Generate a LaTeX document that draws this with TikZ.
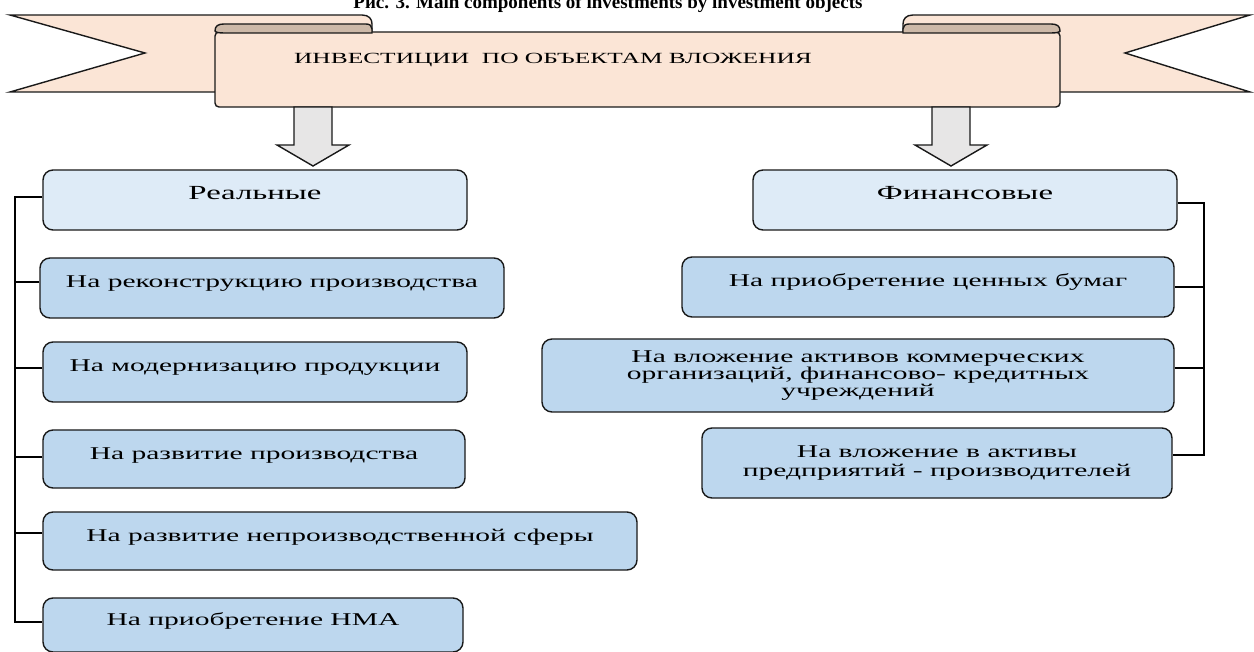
\documentclass[tikz,border=0pt]{standalone}
\usepackage{fontspec}
\setmainfont{Liberation Serif}[FakeStretch=1.64]
\newfontfamily\capfont{Liberation Serif}
\definecolor{peach}{HTML}{FBE5D6}
\definecolor{rollc}{HTML}{CDB9A8}
\definecolor{arrowc}{HTML}{E7E6E6}
\definecolor{hdrc}{HTML}{DEEBF7}
\definecolor{subc}{HTML}{BDD7EE}
\begin{document}
\begin{tikzpicture}[x=1pt,y=-1pt,
  outl/.style={draw=black!90, line width=1.4pt},
  tail/.style={outl, fill=peach, line join=miter},
  roll/.style={outl, fill=rollc},
  panel/.style={outl, fill=peach, rounded corners=4pt, minimum width=845pt, minimum height=75pt, inner sep=0pt},
  bannertxt/.style={inner sep=0pt, text height=5pt, text depth=5pt, font=\fontsize{15.5}{17}\selectfont},
  blockarrow/.style={outl, fill=arrowc, line join=miter},
  hdr/.style={outl, fill=hdrc, rounded corners=10pt, inner sep=0pt, text height=5pt, text depth=5pt, font=\fontsize{20}{22}\selectfont},
  sub/.style={outl, fill=subc, rounded corners=10pt, inner sep=0pt, text height=5pt, text depth=5pt, font=\fontsize{18}{20}\selectfont},
  subm/.style={outl, fill=subc, rounded corners=10pt, inner sep=0pt, align=center},
  conn/.style={draw=black, line width=1.5pt}
]
\useasboundingbox (0,0) rectangle (1254,652);

% ribbon tails
\draw[tail] (10,15) -- (362,15) .. controls (369,15) and (372,19) .. (372,24) -- (372,92) -- (10,92) -- (145,53) -- cycle;
\draw[tail] (1250,15) -- (913,15) .. controls (906,15) and (903,19) .. (903,24) -- (903,92) -- (1250,92) -- (1125,53) -- cycle;

% front panel
\node[panel] (banner) at (637.5,69.5) {};
\node[bannertxt] (bannertext) at (553,64) {ИНВЕСТИЦИИ\ \ ПО ОБЪЕКТАМ ВЛОЖЕНИЯ};

% rolls
\draw[roll] (215,31) .. controls (215,26) and (218,24) .. (224,24) -- (366,24) .. controls (370,24) and (372,26) .. (372,29) -- (372,33) -- (224,33) .. controls (218,33) and (215,32) .. (215,31) -- cycle;
\draw[roll] (1060,31) .. controls (1060,26) and (1057,24) .. (1051,24) -- (909,24) .. controls (905,24) and (903,26) .. (903,29) -- (903,33) -- (1051,33) .. controls (1057,33) and (1060,32) .. (1060,31) -- cycle;

% block arrows
\draw[blockarrow] (294,107) -- (294,145) -- (277,145) -- (313,166) -- (349,145) -- (332,145) -- (332,107) -- cycle;
\draw[blockarrow] (932,107) -- (932,145) -- (915,145) -- (951,166) -- (987,145) -- (970,145) -- (970,107) -- cycle;

% boxes
\node[hdr, minimum width=424pt, minimum height=60pt] (real) at (255,200) {Реальные};
\node[hdr, minimum width=424pt, minimum height=60pt] (fin) at (965,200) {Финансовые};
\node[sub, minimum width=464pt, minimum height=60pt] (l1) at (272,288) {На реконструкцию производства};
\node[sub, minimum width=424pt, minimum height=60pt] (l2) at (255,372) {На модернизацию продукции};
\node[sub, minimum width=422pt, minimum height=58pt] (l3) at (254,459) {На развитие производства};
\node[sub, minimum width=594pt, minimum height=58pt] (l4) at (340,541) {На развитие непроизводственной сферы};
\node[sub, minimum width=420pt, minimum height=54pt] (l5) at (253,625) {На приобретение НМА};
\node[sub, minimum width=492pt, minimum height=60pt] (r1) at (928,287) {На приобретение ценных бумаг};
\node[subm, minimum width=632pt, minimum height=73pt, font=\fontsize{18}{15.5}\selectfont] (r2) at (858,375.5) {На вложение активов коммерческих\\организаций, финансово- кредитных\\учреждений};
\node[subm, minimum width=470pt, minimum height=70pt, font=\fontsize{18}{19}\selectfont] (r3) at (937,463) {На вложение в активы\\предприятий - производителей};

% connectors
\coordinate (lbar) at (15,197);
\coordinate (rbar) at (1204,203);
\draw[conn] ([yshift=3pt]real.west) -- ([yshift=3pt]real.west -| lbar) -- ([yshift=3pt]l5.west -| lbar) -- ([yshift=3pt]l5.west);
\draw[conn] ([yshift=6pt]l1.west) -- ([yshift=6pt]l1.west -| lbar);
\draw[conn] ([yshift=4pt]l2.west) -- ([yshift=4pt]l2.west -| lbar);
\draw[conn] ([yshift=2pt]l3.west) -- ([yshift=2pt]l3.west -| lbar);
\draw[conn] ([yshift=8pt]l4.west) -- ([yshift=8pt]l4.west -| lbar);
\draw[conn] ([yshift=-3pt]fin.east) -- ([yshift=-3pt]fin.east -| rbar) -- ([yshift=8pt]r3.east -| rbar) -- ([yshift=8pt]r3.east);
\draw[conn] (r1.east) -- (r1.east -| rbar);
\draw[conn] ([yshift=7.5pt]r2.east) -- ([yshift=7.5pt]r2.east -| rbar);

% caption (cut off at the top edge, as in the reference)
\node[anchor=base, inner sep=0pt, font=\capfont\bfseries\fontsize{19}{21}\selectfont] (cap) at (608,9) {Рис. 3. Main components of investments by investment objects};
\end{tikzpicture}
\end{document}
